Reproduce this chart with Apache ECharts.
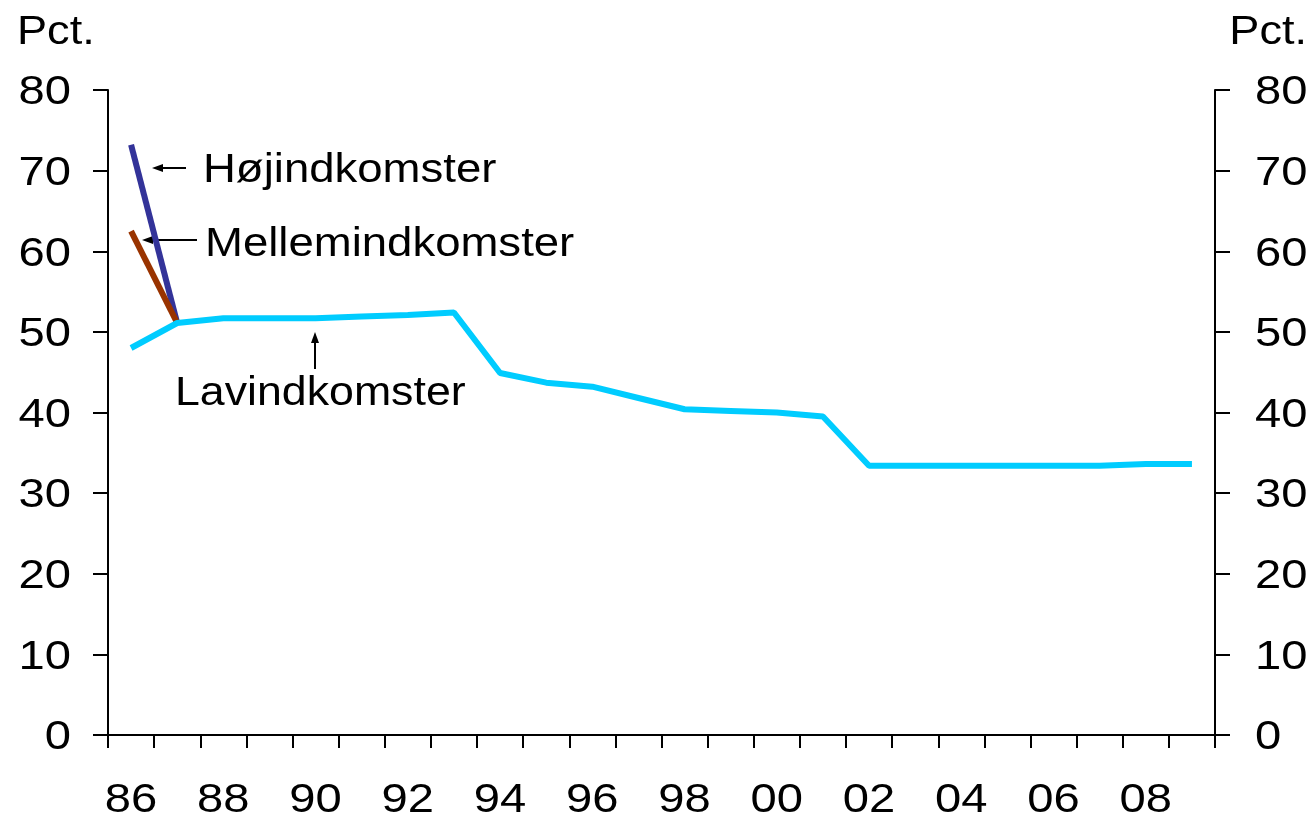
<!DOCTYPE html>
<html>
<head>
<meta charset="utf-8">
<script src="https://cdn.jsdelivr.net/npm/echarts@6/dist/echarts.min.js"></script>
<style>
html,body{margin:0;padding:0;background:#fff;}
#chart{width:1313px;height:819px;}
</style>
</head>
<body>
<div id="chart"></div>
<script>
var years = ['86','87','88','89','90','91','92','93','94','95','96','97','98','99','00','01','02','03','04','05','06','07','08','09'];
var lavindkomster = [48.0,51.1,51.7,51.7,51.7,51.9,52.1,52.4,44.9,43.7,43.2,41.8,40.4,40.2,40.0,39.5,33.4,33.4,33.4,33.4,33.4,33.4,33.6,33.6];
var mellemindkomster = [62.5,51.1,null,null,null,null,null,null,null,null,null,null,null,null,null,null,null,null,null,null,null,null,null,null];
var hojindkomster = [73.2,51.1,null,null,null,null,null,null,null,null,null,null,null,null,null,null,null,null,null,null,null,null,null,null];
var yTicks = [0,10,20,30,40,50,60,70,80];
var xLabelYears = ['86','88','90','92','94','96','98','00','02','04','06','08'];

var FONT = 'Liberation Sans, Arial, sans-serif';
var FS = 41;
var SX = 1.15;
var chart = echarts.init(document.getElementById('chart'));

function yAxis(pos){
  return {
    type:'value', position:pos, min:yTicks[0], max:yTicks[yTicks.length-1], interval:10,
    axisLine:{show:true, lineStyle:{color:'#000', width:2}},
    axisTick:{show:true, length:15, lineStyle:{color:'#000', width:2}},
    splitLine:{show:false},
    axisLabel:{show:false}
  };
}

function txt(text, x, y, align, sx){
  return {type:'text', x:x, y:y, scaleX:sx||SX, z:10,
    style:{text:text, x:0, y:0, fontFamily:FONT, fontSize:FS, fill:'#000',
      align:align, textAlign:align, verticalAlign:'middle', textVerticalAlign:'middle'}};
}

chart.setOption({
  animation:false,
  backgroundColor:'#fff',
  grid:{left:108, right:98, top:90, bottom:84, containLabel:false},
  xAxis:{
    type:'category', data:years, boundaryGap:true,
    axisLine:{show:true, lineStyle:{color:'#000', width:2}},
    axisTick:{show:true, length:13, interval:0, lineStyle:{color:'#000', width:2}},
    axisLabel:{show:false}
  },
  yAxis:[yAxis('left'), yAxis('right')],
  series:[
    {name:'Højindkomster', type:'line', data:hojindkomster, showSymbol:false, symbol:'none', lineStyle:{color:'#333399', width:6}, z:2},
    {name:'Mellemindkomster', type:'line', data:mellemindkomster, showSymbol:false, symbol:'none', lineStyle:{color:'#993300', width:6}, z:3},
    {name:'Lavindkomster', type:'line', data:lavindkomster, showSymbol:false, symbol:'none', lineStyle:{color:'#00CCFF', width:6}, z:4}
  ]
});

// axis labels drawn as scaled text, positioned through the axes' own scales
var g = [];
yTicks.forEach(function(v){
  var py = chart.convertToPixel({yAxisIndex:0}, v) + 3;
  g.push(txt(String(v), 71, py, 'right'));
  g.push(txt(String(v), 1255, py, 'left'));
});
xLabelYears.forEach(function(c){
  var px = chart.convertToPixel({xAxisIndex:0}, c);
  g.push(txt(c, px, 801, 'center'));
});
g.push(txt('Pct.', 17, 33, 'left', 1.1));
g.push(txt('Pct.', 1307, 33, 'right', 1.1));
g.push(txt('Højindkomster', 203, 171, 'left', 1.11));
g.push(txt('Mellemindkomster', 205, 245, 'left', 1.11));
g.push(txt('Lavindkomster', 175, 394, 'left', 1.09));
// annotation arrows
g.push({type:'line', shape:{x1:186,y1:168,x2:160,y2:168}, style:{stroke:'#000', lineWidth:2}});
g.push({type:'polygon', shape:{points:[[152,168],[163,164],[163,172]]}, style:{fill:'#000'}});
g.push({type:'line', shape:{x1:197,y1:240,x2:150,y2:240}, style:{stroke:'#000', lineWidth:2}});
g.push({type:'polygon', shape:{points:[[142,240],[153,236],[153,244]]}, style:{fill:'#000'}});
g.push({type:'line', shape:{x1:315,y1:369,x2:315,y2:340}, style:{stroke:'#000', lineWidth:2}});
g.push({type:'polygon', shape:{points:[[315,332],[311,343],[319,343]]}, style:{fill:'#000'}});
chart.setOption({graphic:g});
</script>
</body>
</html>
